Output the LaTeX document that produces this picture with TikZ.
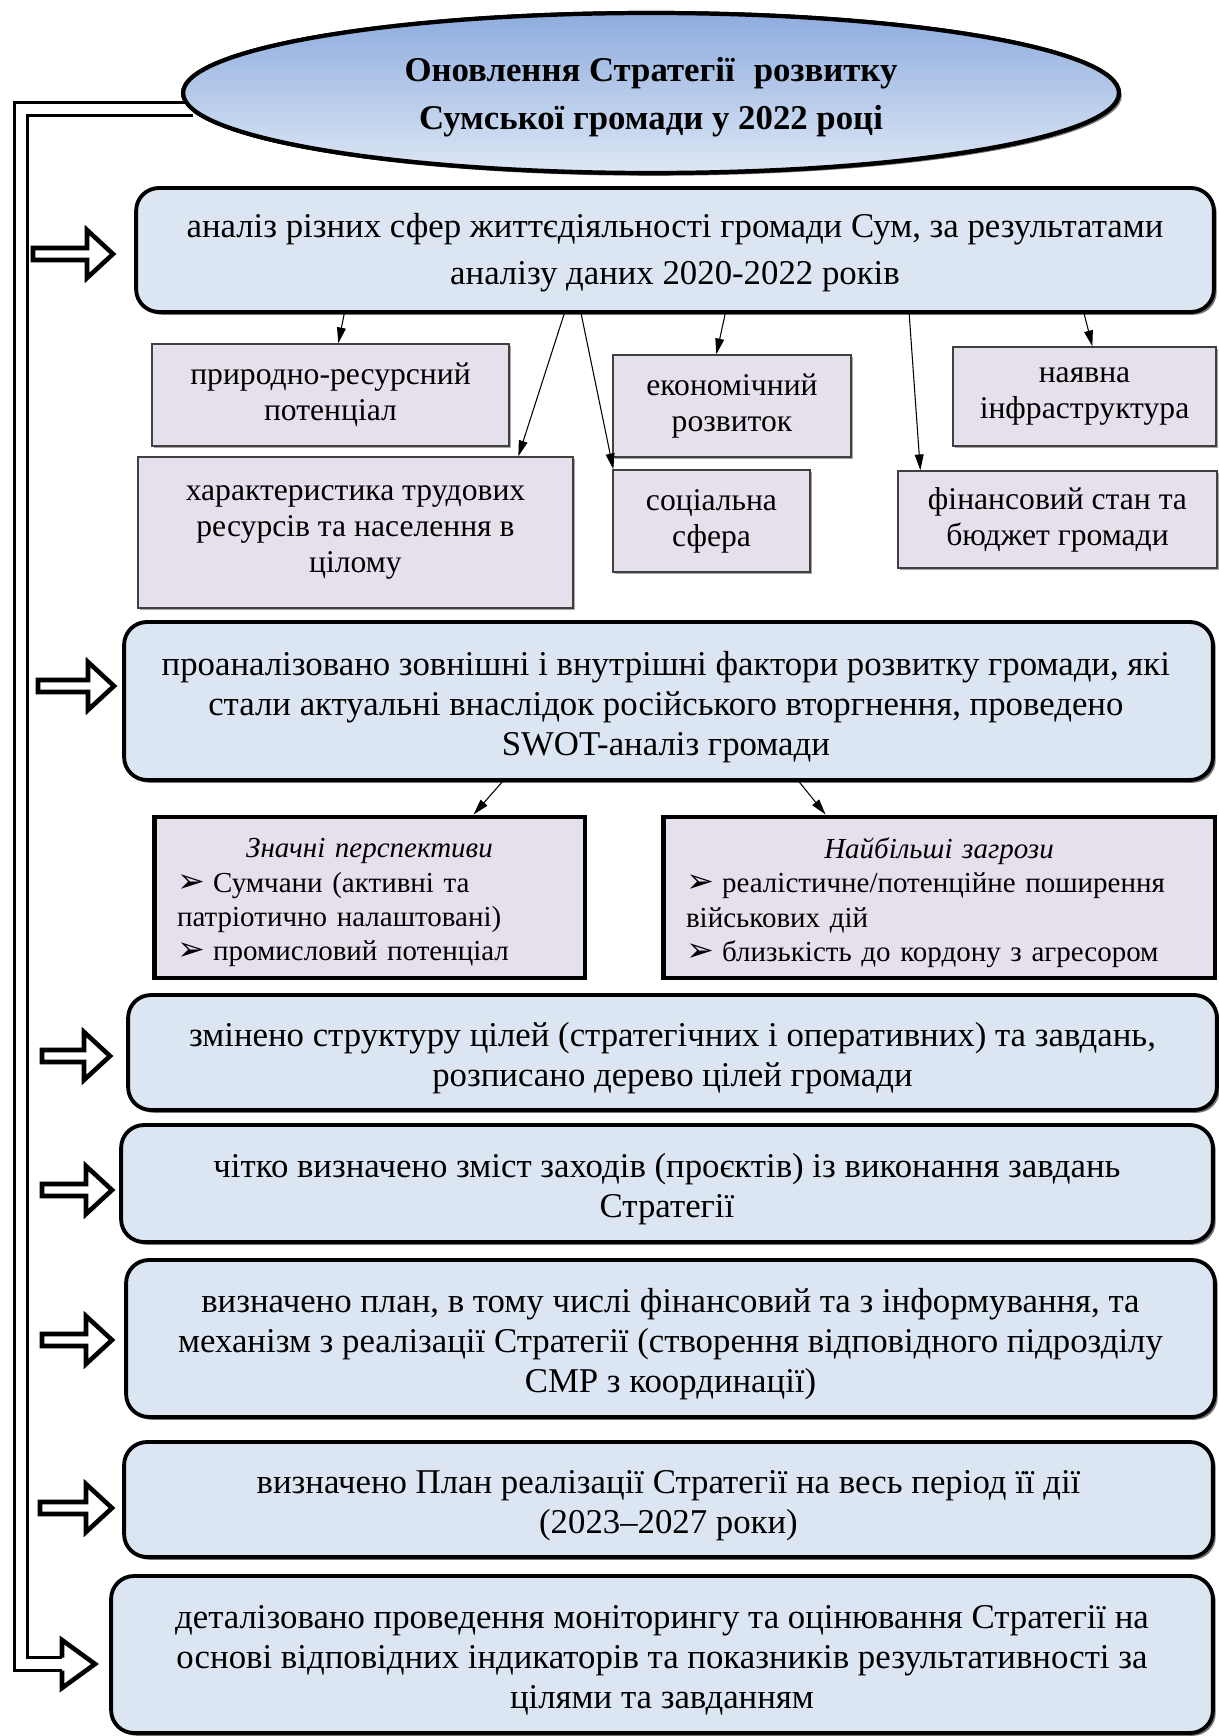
\documentclass[tikz,border=0pt]{standalone}
\usepackage{fontspec}
\setmainfont{Liberation Serif}
\newfontfamily\dejavu{DejaVu Sans}
\usetikzlibrary{shapes.geometric,shadows,calc,arrows.meta}
\definecolor{boxblue}{HTML}{DCE6F2}
\definecolor{boxlav}{HTML}{E5E0EC}
\definecolor{elltop}{HTML}{8EACDE}
\definecolor{ellbot}{HTML}{DDE7F5}
\newcommand\mybul{\smash{\dejavu\fontsize{19}{19}\selectfont ➢}\hspace{0.28em}}
\newcommand\harrow[3]{%
  \draw[hollow] (#2,#1-6) -- (#3-26,#1-6) -- (#3-26,#1-24) -- (#3,#1) -- (#3-26,#1+24) -- (#3-26,#1+6) -- (#2,#1+6) -- cycle;}
\begin{document}
\begin{tikzpicture}[x=0.02cm,y=-0.02cm,
  bigbox/.style={draw=black, line width=2.2pt, fill=boxblue, rounded corners=13pt, inner sep=0pt,
    drop shadow={shadow xshift=1.6pt, shadow yshift=-1.6pt, opacity=0.55, fill=black}},
  btext/.style={align=center, inner sep=0pt, font=\fontsize{19.8}{22.7}\selectfont},
  smallbox/.style={draw=black!75, line width=0.8pt, fill=boxlav, align=center, inner sep=0pt,
    font=\fontsize{18}{20.5}\selectfont,
    drop shadow={shadow xshift=1.2pt, shadow yshift=-1.2pt, opacity=0.35, fill=black}},
  swotbox/.style={draw=black, line width=2.8pt, fill=boxlav, inner sep=0pt},
  stext/.style={align=left, inner sep=0pt, font=\fontsize{16.5}{19.5}\selectfont},
  thinarrow/.style={-{Triangle[length=9pt,width=5pt]}, line width=0.6pt},
  hollow/.style={draw=black, fill=white, line width=2.6pt, line join=miter},
  trunk/.style={draw=black, double=white, double distance=5.7pt, line width=1.8pt, line join=miter},
  ell/.style={ellipse, draw=black, line width=2.4pt, top color=elltop, bottom color=ellbot,
    minimum width=18.72cm, minimum height=3.2cm, inner sep=0pt}
]
\useasboundingbox (0,0) rectangle (1219,1736);

% title and the trunk line leaving it
\coordinate (lastin) at (62,1664);
\node[ell] (title) at (651,93) {};
\draw[trunk] ($(title.west)+(12,16)$) -| (21,1664) -- (lastin);
\node[ell, drop shadow={shadow xshift=1.6pt, shadow yshift=-1.6pt, opacity=0.55, fill=black}] at (651,93) {};
\node[align=center, inner sep=0pt, font=\bfseries\fontsize{19.8}{27.4}\selectfont] (titlet) at ([yshift=-2.5pt]title.center)
  {Оновлення Стратегії\hspace{0.3em} розвитку\\ Сумської громади у 2022 році};
\draw[hollow] ($(lastin)+(0,-6.5)$) -- ($(lastin)+(0,-24)$) -- ($(lastin)+(33,0)$) -- ($(lastin)+(0,24)$) -- ($(lastin)+(0,6.5)$);

% big boxes
\node[bigbox, minimum width=21.56cm, minimum height=2.48cm] (b1) at (675,250) {};
\node[btext, font=\fontsize{19.8}{26.6}\selectfont] (b1t) at ([yshift=-1.7pt]b1.center)
  {аналіз різних сфер життєдіяльності громади Сум, за результатами\\ аналізу даних 2020-2022 років};
\node[bigbox, minimum width=21.78cm, minimum height=3.16cm] (b2) at (668.5,701) {};
\node[btext] (b2t) at ([yshift=-3.3pt,xshift=-1.5pt]b2.center)
  {проаналізовано зовнішні і внутрішні фактори розвитку громади, які\\ стали актуальні внаслідок російського вторгнення, проведено\\ SWOT-аналіз громади};
\node[bigbox, minimum width=21.78cm, minimum height=2.30cm] (b3) at (672.5,1052.5) {};
\node[btext] (b3t) at ([yshift=-3.3pt]b3.center)
  {змінено структуру цілей (стратегічних і оперативних) та завдань,\\ розписано дерево цілей громади};
\node[bigbox, minimum width=21.84cm, minimum height=2.34cm] (b4) at (667,1183.5) {};
\node[btext] (b4t) at ([yshift=-3.3pt]b4.center)
  {чітко визначено зміст заходів (проєктів) із виконання завдань\\ Стратегії};
\node[bigbox, minimum width=21.78cm, minimum height=3.14cm] (b5) at (670.5,1338.5) {};
\node[btext] (b5t) at ([yshift=-3.3pt]b5.center)
  {визначено план, в тому числі фінансовий та з інформування, та\\ механізм з реалізації Стратегії (створення відповідного підрозділу\\ СМР з координації)};
\node[bigbox, minimum width=21.78cm, minimum height=2.30cm] (b6) at (668.5,1499.5) {};
\node[btext] (b6t) at ([yshift=-3.3pt]b6.center)
  {визначено План реалізації Стратегії на весь період її дії\\ (2023–2027 роки)};
\node[bigbox, minimum width=22.04cm, minimum height=3.14cm] (b7) at (662,1654.5) {};
\node[btext] (b7t) at ([yshift=-3.3pt]b7.center)
  {деталізовано проведення моніторингу та оцінювання Стратегії на\\ основі відповідних індикаторів та показників результативності за\\ цілями та завданням};

% small boxes
\node[smallbox, minimum width=7.14cm, minimum height=2.04cm] (p1) at (330.5,395) {природно-ресурсний\\ потенціал};
\node[smallbox, minimum width=8.70cm, minimum height=3.02cm] (p2) at (355.5,532.5) {характеристика трудових\\ ресурсів та населення в\\ цілому};
\node[smallbox, minimum width=4.76cm, minimum height=2.04cm] (p3) at (732,406) {економічний\\ розвиток};
\node[smallbox, minimum width=3.94cm, minimum height=2.04cm] (p4) at (711.5,521) {соціальна\\ сфера};
\node[smallbox, minimum width=5.26cm, minimum height=1.98cm] (p5) at (1084.5,396.5) {наявна\\ інфраструктура};
\node[smallbox, minimum width=6.38cm, minimum height=1.94cm] (p6) at (1057.5,519.5) {фінансовий стан та\\ бюджет громади};

\draw[thinarrow] ($(b1.south west)+(210,0)$) -- ($(p1.north west)+(187,0)$);
\draw[thinarrow] ($(b1.south west)+(430,0)$) -- ($(p2.north west)+(381,0)$);
\draw[thinarrow] ($(b1.south west)+(447,0)$) -- ($(p4.north west)+(1,0)$);
\draw[thinarrow] ($(b1.south west)+(591,0)$) -- ($(p3.north west)+(104,0)$);
\draw[thinarrow] ($(b1.south west)+(775,0)$) -- ($(p6.north west)+(23,0)$);
\draw[thinarrow] ($(b1.south west)+(950,0)$) -- ($(p5.north west)+(140,0)$);

% SWOT boxes
\node[swotbox, minimum width=8.62cm, minimum height=3.22cm] (s1) at (369.5,897.5) {};
\node[stext, text width=7.7cm] (s1t) at ([yshift=-3pt]s1.center)
  {\makebox[\linewidth]{\itshape Значні перспективи}\\ \mybul Сумчани (активні та\\ патріотично налаштовані)\\ \mybul промисловий потенціал};
\node[swotbox, minimum width=11.04cm, minimum height=3.22cm] (s2) at (939,897.5) {};
\node[stext, text width=10.12cm] (s2t) at ([yshift=-3pt]s2.center)
  {\makebox[\linewidth]{\itshape Найбільші загрози}\\ \mybul реалістичне/потенційне поширення\\ військових дій\\ \mybul близькість до кордону з агресором};
\draw[thinarrow] ($(b2.south west)+(380,0)$) -- ($(s1.north west)+(322,0)$);
\draw[thinarrow] ($(b2.south west)+(677,0)$) -- ($(s2.north west)+(165,0)$);

% hollow arrows into the boxes
\harrow{254}{33}{113}
\harrow{686}{38}{114}
\harrow{1056}{42}{110}
\harrow{1190}{42}{112}
\harrow{1340}{42}{112}
\harrow{1508}{40}{112}
\end{tikzpicture}
\end{document}
